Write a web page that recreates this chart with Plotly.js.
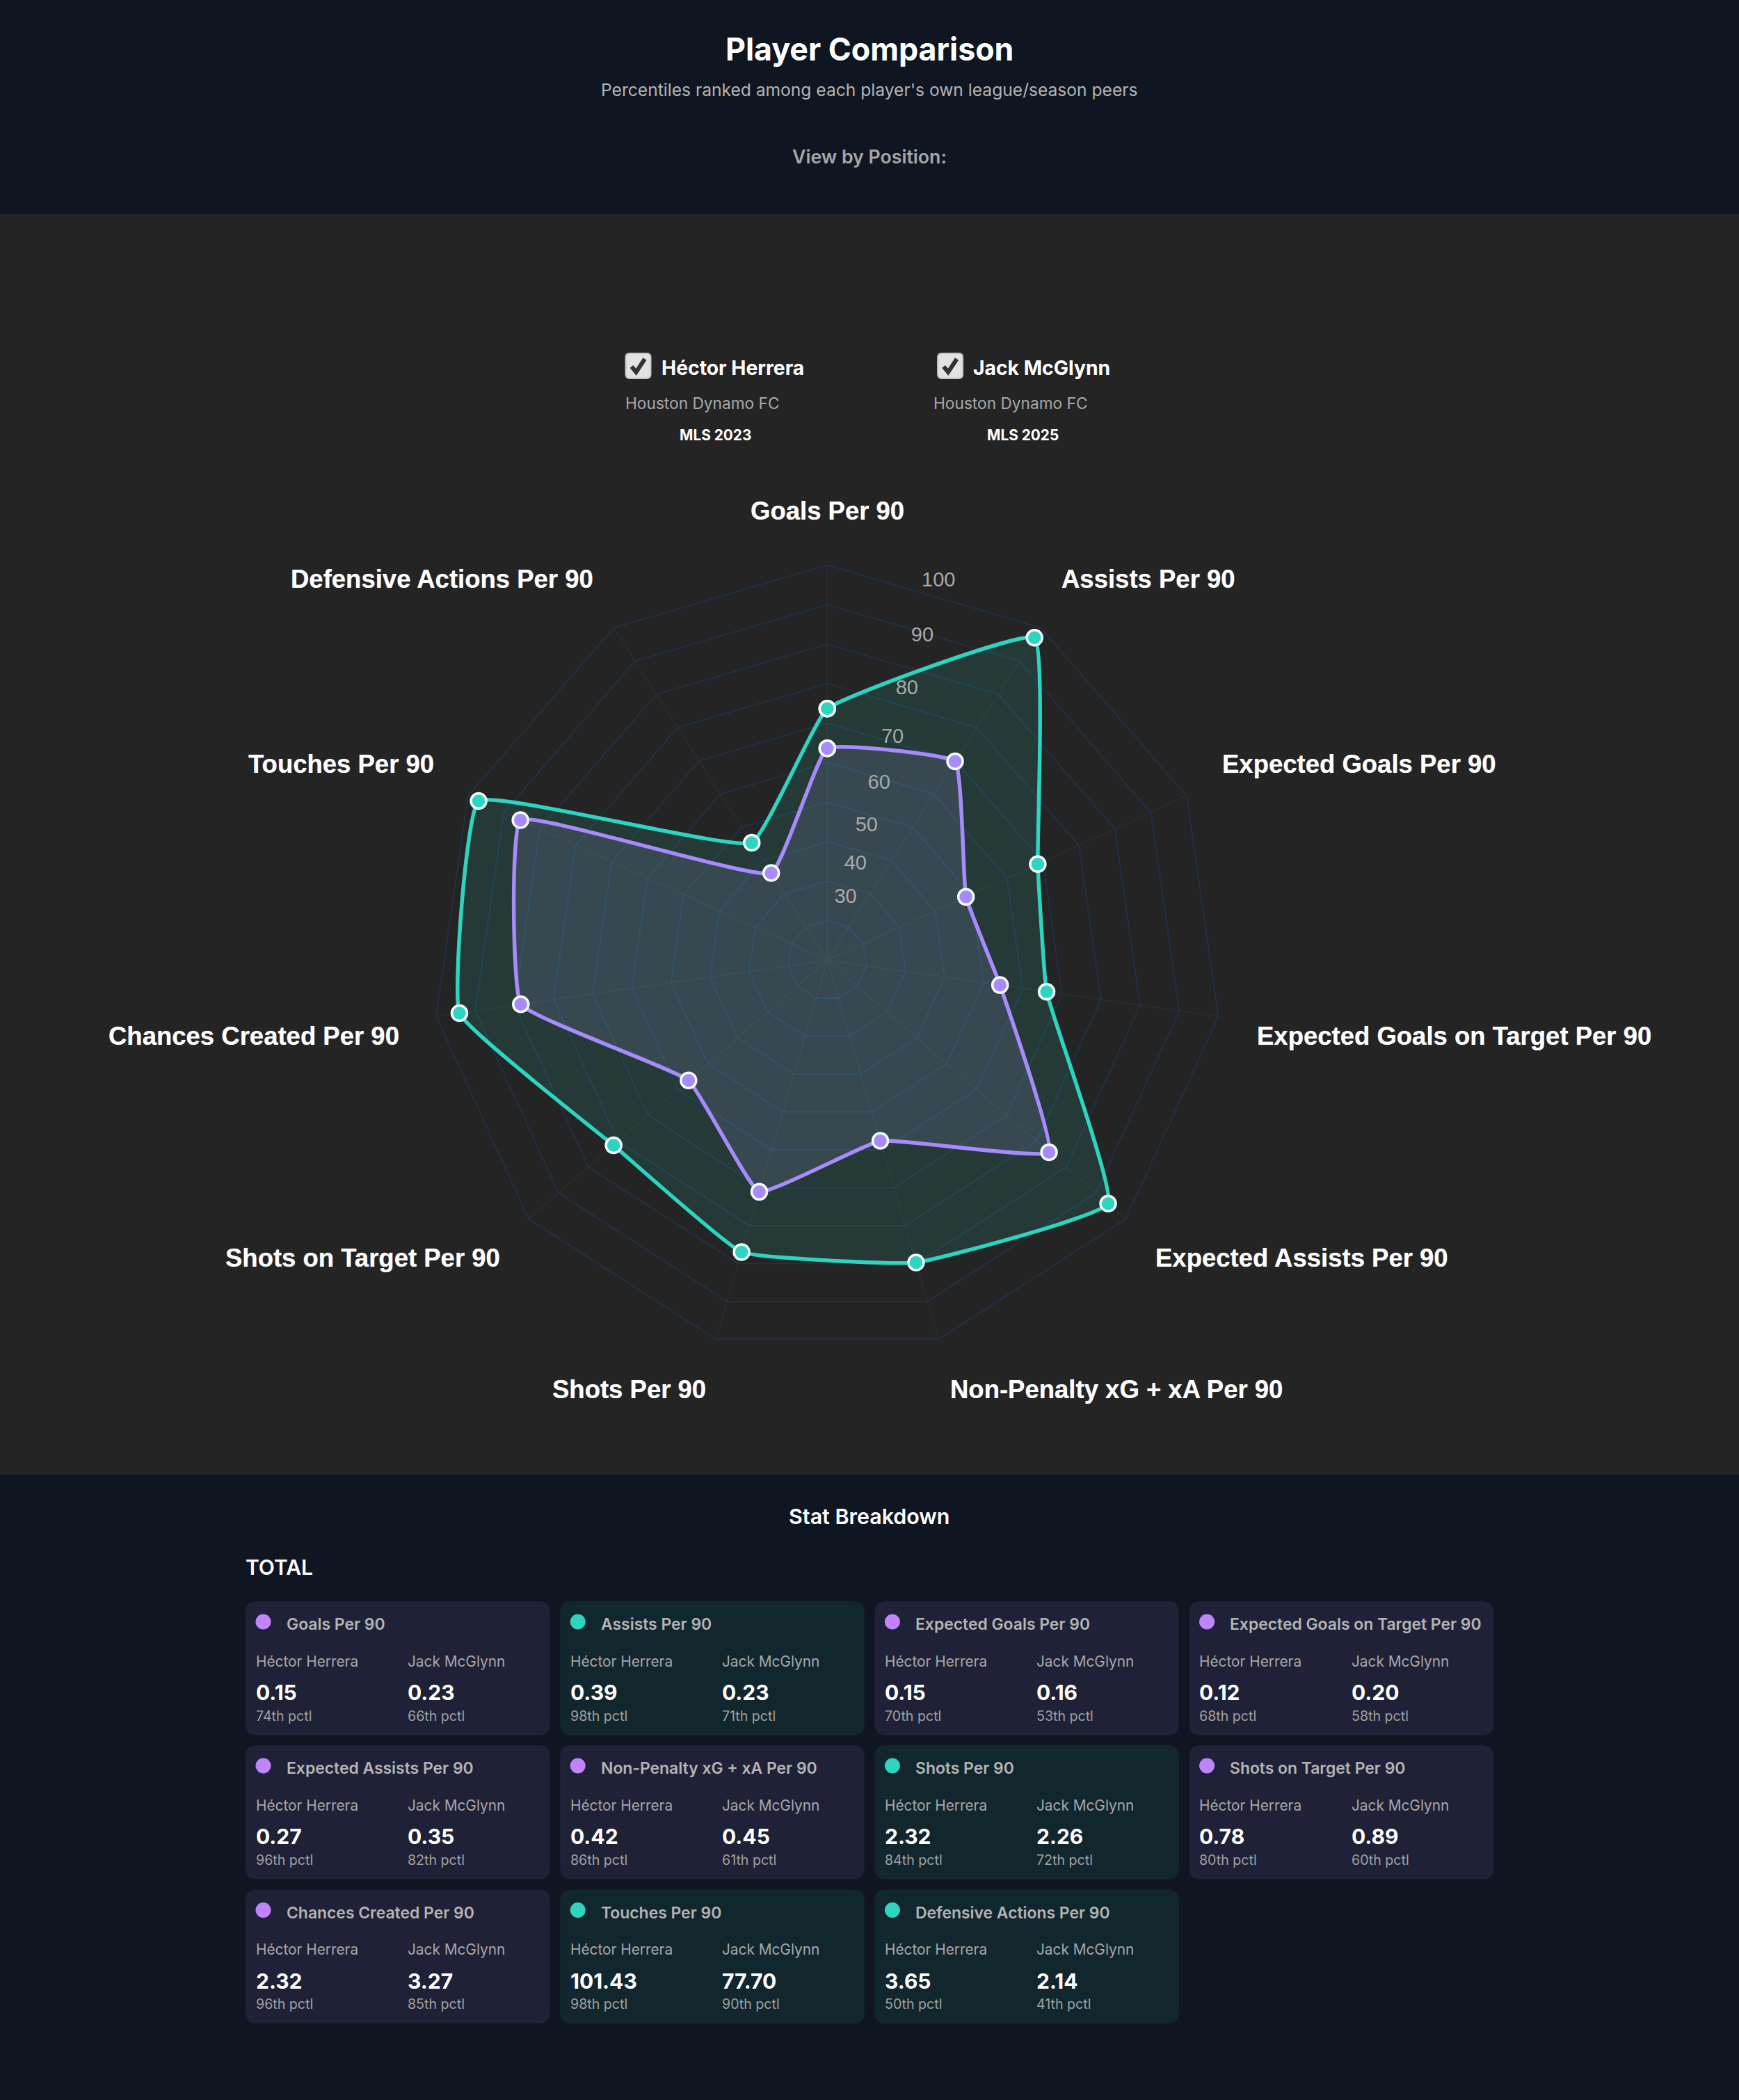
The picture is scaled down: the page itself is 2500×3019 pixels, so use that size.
<!DOCTYPE html>
<html><head><meta charset="utf-8">
<script src="https://cdn.plot.ly/plotly-3.0.1.min.js"></script>
<style>html,body{margin:0;padding:0;background:#0f1622}#chart{width:2500px;height:3019px}</style>
</head><body><div id="chart"></div>
<script>
const W = 2500, H = 3019;
const categories = ["Goals Per 90","Assists Per 90","Expected Goals Per 90","Expected Goals on Target Per 90","Expected Assists Per 90","Non-Penalty xG + xA Per 90","Shots Per 90","Shots on Target Per 90","Chances Created Per 90","Touches Per 90","Defensive Actions Per 90"];
const herreraPct = [74,98,70,68,96,86,84,80,96,98,50];
const mcglynnPct = [66,71,53,58,82,61,72,60,85,90,41];
const herreraVal = ["0.15","0.39","0.15","0.12","0.27","0.42","2.32","0.78","2.32","101.43","3.65"];
const mcglynnVal = ["0.23","0.23","0.16","0.20","0.35","0.45","2.26","0.89","3.27","77.70","2.14"];
const leader = ["m","t","m","m","m","m","t","m","m","t","t"];
const radialLabels = [30,40,50,60,70,80,90,100];
const ringVals = [10,20,30,40,50,60,70,80,90,100];
const names = ["Héctor Herrera","Jack McGlynn"];
const teams = ["Houston Dynamo FC","Houston Dynamo FC"];
const seasons = ["MLS 2023","MLS 2025"];

const NAVY="#0f1622", PANEL="#242424", TEAL="#2dd4bf", PURPLE="#a78bfa", DOT_P="#c084fc";
const CARD_P="#1f2136", CARD_T="#12262e", RING="rgba(30,58,100,0.55)", SPOKE="rgba(50,50,50,0.5)";
const scale = p => 100*Math.pow(p/100,1.5);
const closed = a => a.concat([a[0]]);
const px = x => x/W, py = y => 1-y/H;

function rrect(x,y,w,h,r){
  const X=v=>px(v),Y=v=>py(v);
  return `M${X(x+r)},${Y(y)}L${X(x+w-r)},${Y(y)}Q${X(x+w)},${Y(y)} ${X(x+w)},${Y(y+r)}L${X(x+w)},${Y(y+h-r)}Q${X(x+w)},${Y(y+h)} ${X(x+w-r)},${Y(y+h)}L${X(x+r)},${Y(y+h)}Q${X(x)},${Y(y+h)} ${X(x)},${Y(y+h-r)}L${X(x)},${Y(y+r)}Q${X(x)},${Y(y)} ${X(x+r)},${Y(y)}Z`;
}
const shapes=[], ann=[];
function box(x,y,w,h,fill){shapes.push({type:'rect',xref:'paper',yref:'paper',x0:px(x),x1:px(x+w),y0:py(y+h),y1:py(y),fillcolor:fill,line:{width:0},layer:'below'});}
function rbox(x,y,w,h,r,fill,lc){shapes.push({type:'path',xref:'paper',yref:'paper',path:rrect(x,y,w,h,r),fillcolor:fill,line:{width:lc?2:0,color:lc||fill},layer:'below'});}
function txt(t,x,y,size,color,weight,anchor,fam,shadow){ann.push({text:t,x:px(x),y:py(y),xref:'paper',yref:'paper',xanchor:anchor||'left',yanchor:'middle',showarrow:false,borderpad:0,font:{family:fam||'Inter',size:size,color:color,weight:weight||400,shadow:shadow||'none'}});}

box(0,308,W,1812,PANEL);

txt("Player Comparison",1250,71,44.7,"#ffffff",700,'center');
txt("Percentiles ranked among each player's own league/season peers",1250,129,24.6,"#b4b4b4",400,'center');
txt("View by Position:",1250,224.5,26.7,"#a6a6a6",600,'center');

[[899,950,1028.5,0],[1347.6,1397.5,1470.5,1]].forEach(([cx,nx,sx,i])=>{
  rbox(cx+0.5,508,36,36,6,"#e2e2e2","#c4c4c4");
  const a=cx+9,b=cx+15.5,c=cx+28;
  shapes.push({type:'path',xref:'paper',yref:'paper',path:`M${px(a)},${py(527)}L${px(b)},${py(535)}L${px(c)},${py(516)}`,line:{color:"#333333",width:6},layer:'below'});
  txt(names[i],nx,529,28.3,"#ffffff",700);
  txt(teams[i],i?1341:898,580,22.7,"#a8a8a8",400);
  txt(seasons[i],sx,625.5,20.8,"#ffffff",700,'center');
});

txt("Stat Breakdown",1249.5,2180,30.4,"#ffffff",600,'center');
txt("TOTAL",352.5,2253,30,"#ffffff",600);

const colX=[353,805.2,1257.4,1709.6], rowY=[2302,2509,2716.5], CW=437.4, CH=192.5;
categories.forEach((c,i)=>{
  const x=colX[i%4], y=rowY[Math.floor(i/4)], t=leader[i]==="t";
  rbox(x,y,CW,CH,16,t?CARD_T:CARD_P);
  shapes.push({type:'circle',xref:'paper',yref:'paper',x0:px(x+14.5),x1:px(x+36.5),y0:py(y+40.5),y1:py(y+18.5),fillcolor:t?TEAL:DOT_P,line:{width:0},layer:'below'});
  txt(c,x+57.5,y+33,22.9,"#b4b4b4",600);
  txt(names[0],x+13.5,y+86,20.8,"#a8a8a8",400);
  txt(names[1],x+232,y+86,20.8,"#a8a8a8",400);
  txt(herreraVal[i],x+13.5,y+131,30,"#ffffff",700);
  txt(mcglynnVal[i],x+232,y+131,30,"#ffffff",700);
  txt(herreraPct[i]+"th pctl",x+13.5,y+164.5,19.6,"#a0a0a0",400);
  txt(mcglynnPct[i]+"th pctl",x+232,y+164.5,19.6,"#a0a0a0",400);
});

const CX=1189.3, CY=1380.4, R=568, LABEL_R=623;
const labelDY=[-646.4,-548.4,-282.4,108.6,428.2,616.6,616.6,428.2,108.6,-282.4,-548.4];
categories.forEach((c,i)=>{
  const s=Math.sin(2*Math.PI*i/categories.length);
  txt(c,CX+LABEL_R*s+(s<-0.001?2:(i===1?-1:0)),CY+labelDY[i],36.5,"#ffffff",700,i===0?'center':(s>0?'left':'right'),'Liberation Sans','0 0 1px rgba(255,255,255,0.55)');
});

const dom={x:[px(CX-R),px(CX+R)],y:[py(CY+R),py(CY-R)]};
const traces=[
 {type:'scatterpolar',subplot:'polar',r:closed(herreraPct.map(scale)),theta:closed(categories),mode:'lines+markers',name:names[0],fill:'toself',fillcolor:'rgba(45,212,191,0.125)',
  line:{color:TEAL,width:5.5,shape:'spline',smoothing:0.3},marker:{color:TEAL,size:22,line:{color:'#f2fdfb',width:3.5}},showlegend:false,hoverinfo:'skip'},
 {type:'scatterpolar',subplot:'polar',r:closed(mcglynnPct.map(scale)),theta:closed(categories),mode:'lines+markers',name:names[1],fill:'toself',fillcolor:'rgba(150,150,225,0.155)',
  line:{color:PURPLE,width:5.5,shape:'spline',smoothing:0.3},marker:{color:PURPLE,size:22,line:{color:'#f2fdfb',width:3.5}},showlegend:false,hoverinfo:'skip'},
 {type:'scatterpolar',subplot:'polar2',r:radialLabels.map(scale),theta:radialLabels.map(()=>180/categories.length),thetaunit:'degrees',mode:'text',
  text:radialLabels.map(String),textposition:'middle center',textfont:{family:'Liberation Sans',size:29,color:'#a9a9a9'},showlegend:false,hoverinfo:'skip',cliponaxis:false}
];
const layout={
 width:W,height:H,margin:{l:0,r:0,t:0,b:0},paper_bgcolor:NAVY,plot_bgcolor:'rgba(0,0,0,0)',showlegend:false,
 shapes:shapes,annotations:ann,
 polar:{domain:dom,bgcolor:'rgba(0,0,0,0)',gridshape:'linear',
  radialaxis:{range:[0,100],tickvals:ringVals,showticklabels:false,ticks:'',showline:false,gridcolor:RING,gridwidth:2,angle:90},
  angularaxis:{type:'category',categoryorder:'array',categoryarray:categories,direction:'clockwise',rotation:90,showline:true,linecolor:RING,linewidth:2,gridcolor:SPOKE,gridwidth:2,ticks:'',showticklabels:false}},
 polar2:{domain:dom,bgcolor:'rgba(0,0,0,0)',
  radialaxis:{range:[0,100],visible:false},
  angularaxis:{visible:false,direction:'clockwise',rotation:90,thetaunit:'degrees'}}
};
Plotly.newPlot('chart',traces,layout,{displayModeBar:false,staticPlot:true});
</script></body></html>
